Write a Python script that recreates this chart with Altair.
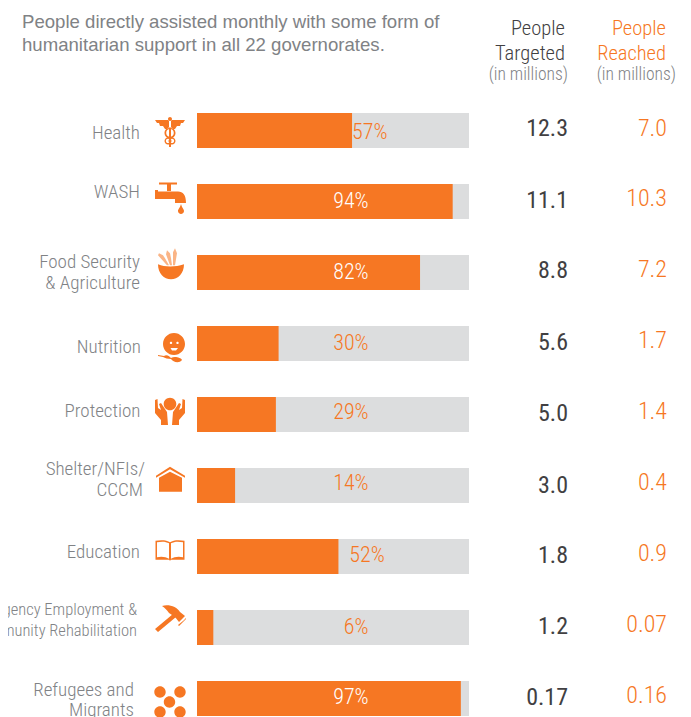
import altair as alt
import pandas as pd

ORANGE = "#F67723"
GREY = "#DCDDDE"
LABEL = "#808285"
DARK = "#414042"
NARROW = "Roboto Condensed"

categories = ["Health", "WASH", "Food Security & Agriculture", "Nutrition", "Protection",
              "Shelter/NFIs/CCCM", "Education", "Emergency Employment & Community Rehabilitation",
              "Refugees and Migrants"]
rows = [0, 1, 2, 3, 4, 5, 6, 7, 8]
percent = [57, 94, 82, 30, 29, 14, 52, 6, 97]
percent_at = [63.5, 56.6, 56.6, 56.6, 56.6, 56.6, 62.5, 58.5, 56.6]
percent_row = [0.02, 0.99, 1.99, 2.99, 3.97, 4.96, 5.98, 6.99, 7.98]
percent_colour = [ORANGE, "white", "white", ORANGE, ORANGE, ORANGE, ORANGE, ORANGE, "white"]
targeted = ["12.3", "11.1", "8.8", "5.6", "5.0", "3.0", "1.8", "1.2", "0.17"]
targeted_row = [-0.02, 0.99, 1.98, 2.995, 3.995, 5.0, 5.99, 6.99, 7.995]
reached = ["7.0", "10.3", "7.2", "1.7", "1.4", "0.4", "0.9", "0.07", "0.16"]
reached_row = [-0.02, 0.96, 1.96, 2.97, 3.97, 4.97, 5.97, 6.97, 7.97]

label_lines = ["Health", "WASH", "Food Security", "& Agriculture", "Nutrition", "Protection",
               "Shelter/NFIs/", "CCCM", "Education", "Emergency Employment &",
               "Community Rehabilitation", "Refugees and", "Migrants"]
label_rows = [0.035, 0.866, 1.852, 2.148, 3.05, 3.95, 4.767, 5.063, 5.937, 6.753, 7.049, 7.88, 8.162]
label_right = [132, 132, 132, 132, 133, 132.5, 137, 135, 132, 129, 129, 126, 126]
label_size = [19, 19, 19, 19, 19, 19, 19, 19, 19, 16.5, 16.5, 19, 19]

title_lines = ["People directly assisted monthly with some form of",
               "humanitarian support in all 22 governorates."]
head_targeted = ["People", "Targeted", "(in millions)"]
head_reached = ["People", "Reached", "(in millions)"]


def circle(cx, cy, r, cw=True):
    s = 1 if cw else 0
    return f"M{cx-r},{cy} A{r},{r} 0 1 {s} {cx+r},{cy} A{r},{r} 0 1 {s} {cx-r},{cy} Z "


health = ("M-1,-12 L-15,-12 L-13,-9 L-11,-9 L-10,-6 L-7,-6 L-5,-3 L-1,-4 Z "
          "M1,-12 L1,-4 L5,-3 L7,-6 L10,-6 L11,-9 L13,-9 L15,-12 Z "
          + circle(0, -13, 2)
          + "M-1,-3 L1,-3 L1,15 L-1,15 Z "
          + circle(0, 1, 5.5) + circle(0, 1, 3.8, False)
          + circle(-2, 9, 3.5) + circle(-2, 9, 2.1, False)
          + circle(2, 9, 3.5) + circle(2, 9, 2.1, False))
tap = ("M-11,-17.5 L7,-17.5 L7,-15.5 L-11,-15.5 Z M-3,-15.5 L1,-15.5 L1,-9 L-3,-9 Z "
       "M-15,-10 L-12,-10 L-12,-1 L-15,-1 Z "
       "M-12,-8.5 L8,-8.5 C13,-8.5 16,-5 16,3 L5,3 L5,-1 L-12,-1 Z "
       "M11,4 C12,8 14,9 14,11 A3,3 0 0 1 8,11 C8,9 10,8 11,4 Z")
food = ("M-12,-4 C-5,-1 5,-1 14,-4 C14,5 8,11 1,11 C-6,11 -12,5 -12,-4 Z")
wheat = ("M-3,-3 L-12,-13 L-11,-15 L-7,-13 L-5,-10 L-1,-3 Z "
         "M0,-3 L-4,-14 L-3,-18 L0,-15 L1,-10 L2,-3 Z "
         "M3,-3 L3,-16 L5,-20 L7,-15 L6,-9 L5,-3 Z")
nutrition = (circle(4, -1, 11)
             + circle(1, -2, 1.2, False) + circle(7.5, -2, 1.2, False)
             + "M0.5,3 L2,5.5 L6,5.5 L8,3 Z "
             + "M-12,10 L-6,11 C-3,9 0,12 1,13 L1,14 C-2,14 -5,13 -7,12 L-12,11 Z "
             + "M1,13 C5,11 11,13 12,15 C9,19 3,17 1,14 Z")
protection = (circle(0, -7, 6.3)
              + "M-15,-11 L-12.5,-12 L-12,-3 L-9,-1 L-11,-7 L-9,-8 L-3,1 L-2,14 L-9,14 L-9,9 L-15,2 Z "
              + "M15,-11 L15,2 L9,9 L9,14 L2,14 L3,1 L9,-8 L11,-7 L9,-1 L12,-3 L12.5,-12 Z")
shelter = ("M-14,-4 L0,-13 L15,-4 L15,-2 L0,-10.5 L-14,-2 Z "
           "M-11,-2 L0,-8 L12,-2 L12,12 L-11,12 Z")
education = ("M-14.5,-10 C-10,-11 -3,-11 0,-8.5 C3,-11 10,-11 14.5,-10 L14.5,9 L1,9 L0,10 L-1,9 L-14.5,9 Z "
             "M-1,-7.5 C-4,-9.5 -9,-9.5 -13,-8.5 L-13,6.5 C-9,5.5 -4,6 -1,8 Z "
             "M1,-7.5 L1,8 C4,6 9,5.5 13,6.5 L13,-8.5 C9,-9.5 4,-9.5 1,-7.5 Z")
hammer = ("M3,-5 L6,-2 L-12,13 L-15,10 Z "
          "M-8,-13 C-1,-15 7,-12 10,-7 L15,-3 L9,3 L5,-2 L-1,-6 C-3,-9 -5,-11 -8,-13 Z "
          "M13,2 L16,-1 L16,0 L9,7 L8,6 Z")
refugees = (circle(-10, -10, 5.7) + circle(10, -10, 5.7) + circle(-0.5, 0, 5.7)
            + circle(-10, 10, 5.7) + circle(10, 10, 5.7))
icons = [health, tap, food, nutrition, protection, shelter, education, hammer, refugees]
icon_rows = [0.02, 0.98, 1.94, 3.02, 3.95, 4.92, 5.92, 6.88, 8.05]

main = pd.DataFrame({"category": categories, "row": rows, "percent": percent, "full": [100] * 9,
                     "percent_at": percent_at, "percent_row": percent_row,
                     "percent_text": [f"{p}%" for p in percent], "percent_colour": percent_colour,
                     "targeted": targeted, "targeted_row": targeted_row,
                     "reached": reached, "reached_row": reached_row,
                     "icon": icons, "icon_row": icon_rows})
labels = pd.DataFrame({"line": label_lines, "row": label_rows, "right": label_right, "size": label_size})

xs = alt.Scale(domain=[0, 100], range=[189, 461], padding=0)
ys = alt.Scale(domain=[0, 8], range=[122.5, 690.5], zero=False, nice=False, padding=0)
X = lambda f: alt.X(f, scale=xs, axis=None)
Y = lambda f: alt.Y(f, scale=ys, axis=None)
BAR = 35
W = 300

base = alt.Chart(main)
back = base.mark_bar(color=GREY, size=BAR, orient="horizontal").encode(x=X("full:Q"), x2=alt.datum(0), y=Y("row:Q"))
front = base.mark_bar(color=ORANGE, size=BAR, orient="horizontal").encode(x=X("percent:Q"), x2=alt.datum(0), y=Y("row:Q"))
pct = base.mark_text(font=NARROW, fontWeight=W, fontSize=22, baseline="middle", align="center").encode(
    x=X("percent_at:Q"), y=Y("percent_row:Q"), text="percent_text:N",
    color=alt.Color("percent_colour:N", scale=None))
tgt = base.mark_text(font=NARROW, fontWeight=400, fontSize=24, baseline="middle", align="right", color=DARK).encode(
    x=alt.value(560), y=Y("targeted_row:Q"), text="targeted:N")
rch = base.mark_text(font=NARROW, fontWeight=W, fontSize=24, baseline="middle", align="right", color=ORANGE).encode(
    x=alt.value(659), y=Y("reached_row:Q"), text="reached:N")
icon = base.mark_point(filled=True, size=4, color=ORANGE, opacity=1, strokeWidth=0).encode(
    x=alt.value(162), y=Y("icon_row:Q"),
    shape=alt.Shape("icon:N", scale=None))
wheat_df = pd.DataFrame({"row": [1.94], "icon": [wheat]})
wheat_layer = alt.Chart(wheat_df).mark_point(filled=True, size=4, color=ORANGE, opacity=0.55, strokeWidth=0).encode(
    x=alt.value(162), y=Y("row:Q"), shape=alt.Shape("icon:N", scale=None))
lab = alt.Chart(labels).mark_text(font=NARROW, fontWeight=300, baseline="middle", align="right", color=LABEL).encode(
    x=alt.X("right:Q", scale=None, axis=None), y=Y("row:Q"), text="line:N",
    size=alt.Size("size:Q", scale=None))


def line(text, x, y, size, colour, align="right", font=NARROW, weight=W):
    return alt.Chart(pd.DataFrame({"t": [text]})).mark_text(
        font=font, fontSize=size, fontWeight=weight, color=colour, align=align, baseline="middle").encode(
        x=alt.value(x), y=alt.value(y), text="t:N")


texts = [line(title_lines[0], 14, 14, 18.6, LABEL, "left", "Liberation Sans", 400),
         line(title_lines[1], 14, 37, 18.6, LABEL, "left", "Liberation Sans", 400),
         line(head_targeted[0], 557, 21, 20.5, DARK), line(head_targeted[1], 557, 46, 20.5, DARK),
         line(head_targeted[2], 560, 66.5, 17.5, LABEL),
         line(head_reached[0], 658, 21, 20.5, ORANGE), line(head_reached[1], 658, 46, 20.5, ORANGE),
         line(head_reached[2], 668, 66.5, 17.5, LABEL)]

chart = alt.layer(back, front, pct, tgt, rch, wheat_layer, icon, lab, *texts).resolve_scale(
    x="independent", y="shared"
).properties(width=675, height=709, padding=0, autosize=alt.AutoSizeParams(type="none")).configure_view(stroke=None)

chart.save("out.html", embed_options={"renderer": "svg", "actions": False})
